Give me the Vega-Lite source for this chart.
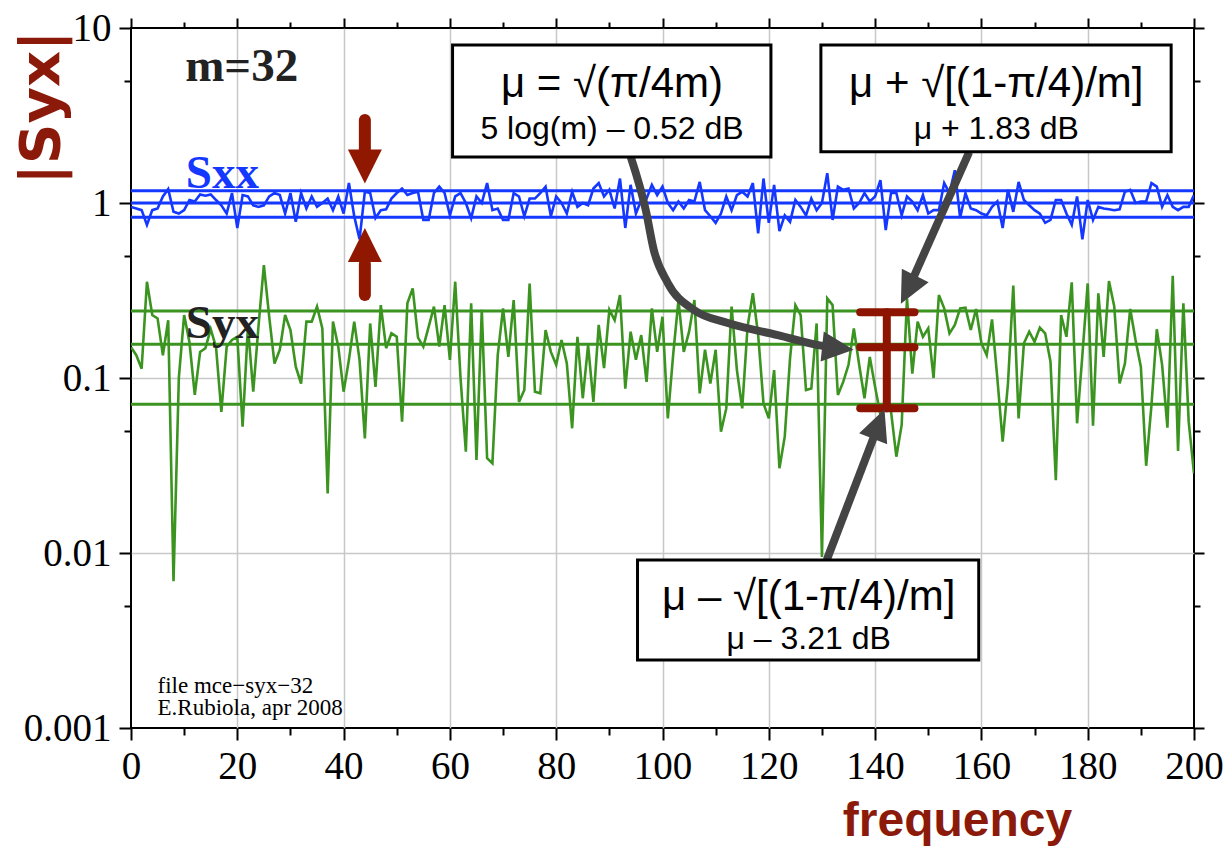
{
"$schema":"https://vega.github.io/schema/vega-lite/v6.json",
"width":1063,"height":700,"autosize":"none",
"padding":{"left":131,"top":28,"right":36,"bottom":122},
"background":"white",
"config":{"view":{"stroke":"black","strokeWidth":2}},
"datasets":{
"series":[
{"f":0,"v":0.95,"s":"Sxx"},{"f":1,"v":0.93,"s":"Sxx"},{"f":2,"v":0.91,"s":"Sxx"},{"f":3,"v":0.75,"s":"Sxx"},{"f":4,"v":0.91,"s":"Sxx"},{"f":5,"v":0.93,"s":"Sxx"},{"f":6,"v":1.09,"s":"Sxx"},{"f":7,"v":1.2,"s":"Sxx"},{"f":8,"v":0.89,"s":"Sxx"},{"f":9,"v":0.87,"s":"Sxx"},
{"f":10,"v":0.91,"s":"Sxx"},{"f":11,"v":1.04,"s":"Sxx"},{"f":12,"v":1.02,"s":"Sxx"},{"f":13,"v":1.12,"s":"Sxx"},{"f":14,"v":1.1,"s":"Sxx"},{"f":15,"v":1.12,"s":"Sxx"},{"f":16,"v":1.04,"s":"Sxx"},{"f":17,"v":0.97,"s":"Sxx"},{"f":18,"v":0.87,"s":"Sxx"},{"f":19,"v":1.14,"s":"Sxx"},
{"f":20,"v":0.72,"s":"Sxx"},{"f":21,"v":1.11,"s":"Sxx"},{"f":22,"v":1.09,"s":"Sxx"},{"f":23,"v":0.97,"s":"Sxx"},{"f":24,"v":0.95,"s":"Sxx"},{"f":25,"v":0.97,"s":"Sxx"},{"f":26,"v":1.09,"s":"Sxx"},{"f":27,"v":1.14,"s":"Sxx"},{"f":28,"v":1.11,"s":"Sxx"},{"f":29,"v":0.87,"s":"Sxx"},
{"f":30,"v":1.14,"s":"Sxx"},{"f":31,"v":0.78,"s":"Sxx"},{"f":32,"v":1.14,"s":"Sxx"},{"f":33,"v":0.93,"s":"Sxx"},{"f":34,"v":1.09,"s":"Sxx"},{"f":35,"v":0.95,"s":"Sxx"},{"f":36,"v":1.0,"s":"Sxx"},{"f":37,"v":1.06,"s":"Sxx"},{"f":38,"v":0.91,"s":"Sxx"},{"f":39,"v":1.09,"s":"Sxx"},
{"f":40,"v":0.87,"s":"Sxx"},{"f":41,"v":1.3,"s":"Sxx"},{"f":42,"v":0.84,"s":"Sxx"},{"f":43,"v":0.62,"s":"Sxx"},{"f":44,"v":1.16,"s":"Sxx"},{"f":45,"v":1.14,"s":"Sxx"},{"f":46,"v":0.82,"s":"Sxx"},{"f":47,"v":0.91,"s":"Sxx"},{"f":48,"v":0.92,"s":"Sxx"},{"f":49,"v":1.06,"s":"Sxx"},
{"f":50,"v":1.14,"s":"Sxx"},{"f":51,"v":1.21,"s":"Sxx"},{"f":52,"v":1.11,"s":"Sxx"},{"f":53,"v":1.14,"s":"Sxx"},{"f":54,"v":1.16,"s":"Sxx"},{"f":55,"v":0.8,"s":"Sxx"},{"f":56,"v":0.8,"s":"Sxx"},{"f":57,"v":1.14,"s":"Sxx"},{"f":58,"v":1.24,"s":"Sxx"},{"f":59,"v":1.14,"s":"Sxx"},
{"f":60,"v":0.85,"s":"Sxx"},{"f":61,"v":1.09,"s":"Sxx"},{"f":62,"v":1.14,"s":"Sxx"},{"f":63,"v":1.0,"s":"Sxx"},{"f":64,"v":0.82,"s":"Sxx"},{"f":65,"v":1.09,"s":"Sxx"},{"f":66,"v":1.0,"s":"Sxx"},{"f":67,"v":1.3,"s":"Sxx"},{"f":68,"v":0.91,"s":"Sxx"},{"f":69,"v":0.93,"s":"Sxx"},
{"f":70,"v":0.8,"s":"Sxx"},{"f":71,"v":0.8,"s":"Sxx"},{"f":72,"v":1.14,"s":"Sxx"},{"f":73,"v":1.09,"s":"Sxx"},{"f":74,"v":0.84,"s":"Sxx"},{"f":75,"v":1.06,"s":"Sxx"},{"f":76,"v":1.06,"s":"Sxx"},{"f":77,"v":1.14,"s":"Sxx"},{"f":78,"v":1.24,"s":"Sxx"},{"f":79,"v":0.84,"s":"Sxx"},
{"f":80,"v":1.09,"s":"Sxx"},{"f":81,"v":1.0,"s":"Sxx"},{"f":82,"v":0.87,"s":"Sxx"},{"f":83,"v":1.16,"s":"Sxx"},{"f":84,"v":0.95,"s":"Sxx"},{"f":85,"v":1.0,"s":"Sxx"},{"f":86,"v":0.97,"s":"Sxx"},{"f":87,"v":1.21,"s":"Sxx"},{"f":88,"v":1.3,"s":"Sxx"},{"f":89,"v":1.09,"s":"Sxx"},
{"f":90,"v":1.19,"s":"Sxx"},{"f":91,"v":0.93,"s":"Sxx"},{"f":92,"v":1.38,"s":"Sxx"},{"f":93,"v":0.72,"s":"Sxx"},{"f":94,"v":1.27,"s":"Sxx"},{"f":95,"v":0.87,"s":"Sxx"},{"f":96,"v":1.04,"s":"Sxx"},{"f":97,"v":1.06,"s":"Sxx"},{"f":98,"v":1.27,"s":"Sxx"},{"f":99,"v":1.11,"s":"Sxx"},
{"f":100,"v":1.24,"s":"Sxx"},{"f":101,"v":1.0,"s":"Sxx"},{"f":102,"v":0.91,"s":"Sxx"},{"f":103,"v":1.02,"s":"Sxx"},{"f":104,"v":0.93,"s":"Sxx"},{"f":105,"v":1.04,"s":"Sxx"},{"f":106,"v":1.02,"s":"Sxx"},{"f":107,"v":1.32,"s":"Sxx"},{"f":108,"v":0.91,"s":"Sxx"},{"f":109,"v":0.84,"s":"Sxx"},
{"f":110,"v":0.77,"s":"Sxx"},{"f":111,"v":0.87,"s":"Sxx"},{"f":112,"v":1.09,"s":"Sxx"},{"f":113,"v":0.91,"s":"Sxx"},{"f":114,"v":1.11,"s":"Sxx"},{"f":115,"v":1.16,"s":"Sxx"},{"f":116,"v":1.09,"s":"Sxx"},{"f":117,"v":1.3,"s":"Sxx"},{"f":118,"v":0.67,"s":"Sxx"},{"f":119,"v":1.38,"s":"Sxx"},
{"f":120,"v":0.77,"s":"Sxx"},{"f":121,"v":1.27,"s":"Sxx"},{"f":122,"v":0.69,"s":"Sxx"},{"f":123,"v":0.85,"s":"Sxx"},{"f":124,"v":0.78,"s":"Sxx"},{"f":125,"v":1.04,"s":"Sxx"},{"f":126,"v":0.95,"s":"Sxx"},{"f":127,"v":0.85,"s":"Sxx"},{"f":128,"v":1.06,"s":"Sxx"},{"f":129,"v":0.91,"s":"Sxx"},
{"f":130,"v":1.0,"s":"Sxx"},{"f":131,"v":1.48,"s":"Sxx"},{"f":132,"v":0.8,"s":"Sxx"},{"f":133,"v":1.24,"s":"Sxx"},{"f":134,"v":1.19,"s":"Sxx"},{"f":135,"v":1.21,"s":"Sxx"},{"f":136,"v":0.93,"s":"Sxx"},{"f":137,"v":1.0,"s":"Sxx"},{"f":138,"v":1.14,"s":"Sxx"},{"f":139,"v":1.02,"s":"Sxx"},
{"f":140,"v":1.09,"s":"Sxx"},{"f":141,"v":1.35,"s":"Sxx"},{"f":142,"v":0.7,"s":"Sxx"},{"f":143,"v":1.14,"s":"Sxx"},{"f":144,"v":1.14,"s":"Sxx"},{"f":145,"v":0.85,"s":"Sxx"},{"f":146,"v":1.09,"s":"Sxx"},{"f":147,"v":1.02,"s":"Sxx"},{"f":148,"v":0.91,"s":"Sxx"},{"f":149,"v":1.11,"s":"Sxx"},
{"f":150,"v":0.87,"s":"Sxx"},{"f":151,"v":0.91,"s":"Sxx"},{"f":152,"v":0.91,"s":"Sxx"},{"f":153,"v":1.3,"s":"Sxx"},{"f":154,"v":1.14,"s":"Sxx"},{"f":155,"v":1.54,"s":"Sxx"},{"f":156,"v":0.82,"s":"Sxx"},{"f":157,"v":1.14,"s":"Sxx"},{"f":158,"v":0.93,"s":"Sxx"},{"f":159,"v":0.91,"s":"Sxx"},
{"f":160,"v":0.87,"s":"Sxx"},{"f":161,"v":0.85,"s":"Sxx"},{"f":162,"v":0.95,"s":"Sxx"},{"f":163,"v":1.02,"s":"Sxx"},{"f":164,"v":0.72,"s":"Sxx"},{"f":165,"v":1.19,"s":"Sxx"},{"f":166,"v":0.89,"s":"Sxx"},{"f":167,"v":1.32,"s":"Sxx"},{"f":168,"v":1.04,"s":"Sxx"},{"f":169,"v":0.97,"s":"Sxx"},
{"f":170,"v":0.91,"s":"Sxx"},{"f":171,"v":0.87,"s":"Sxx"},{"f":172,"v":0.77,"s":"Sxx"},{"f":173,"v":0.8,"s":"Sxx"},{"f":174,"v":1.04,"s":"Sxx"},{"f":175,"v":1.04,"s":"Sxx"},{"f":176,"v":0.87,"s":"Sxx"},{"f":177,"v":0.75,"s":"Sxx"},{"f":178,"v":1.09,"s":"Sxx"},{"f":179,"v":0.62,"s":"Sxx"},
{"f":180,"v":1.04,"s":"Sxx"},{"f":181,"v":0.8,"s":"Sxx"},{"f":182,"v":0.95,"s":"Sxx"},{"f":183,"v":0.93,"s":"Sxx"},{"f":184,"v":0.92,"s":"Sxx"},{"f":185,"v":0.91,"s":"Sxx"},{"f":186,"v":0.92,"s":"Sxx"},{"f":187,"v":1.16,"s":"Sxx"},{"f":188,"v":1.19,"s":"Sxx"},{"f":189,"v":1.0,"s":"Sxx"},
{"f":190,"v":1.02,"s":"Sxx"},{"f":191,"v":1.02,"s":"Sxx"},{"f":192,"v":1.3,"s":"Sxx"},{"f":193,"v":1.24,"s":"Sxx"},{"f":194,"v":0.95,"s":"Sxx"},{"f":195,"v":1.11,"s":"Sxx"},{"f":196,"v":0.95,"s":"Sxx"},{"f":197,"v":0.91,"s":"Sxx"},{"f":198,"v":0.95,"s":"Sxx"},{"f":199,"v":0.95,"s":"Sxx"},{"f":200,"v":1.11,"s":"Sxx"},
{"f":0,"v":0.15,"s":"Syx"},{"f":1,"v":0.135,"s":"Syx"},{"f":2,"v":0.113,"s":"Syx"},{"f":3,"v":0.355,"s":"Syx"},{"f":4,"v":0.229,"s":"Syx"},{"f":5,"v":0.219,"s":"Syx"},{"f":6,"v":0.135,"s":"Syx"},{"f":7,"v":0.214,"s":"Syx"},{"f":8,"v":0.0069,"s":"Syx"},{"f":9,"v":0.1,"s":"Syx"},
{"f":10,"v":0.229,"s":"Syx"},{"f":11,"v":0.16,"s":"Syx"},{"f":12,"v":0.08,"s":"Syx"},{"f":13,"v":0.141,"s":"Syx"},{"f":14,"v":0.148,"s":"Syx"},{"f":15,"v":0.19,"s":"Syx"},{"f":16,"v":0.15,"s":"Syx"},{"f":17,"v":0.064,"s":"Syx"},{"f":18,"v":0.151,"s":"Syx"},{"f":19,"v":0.165,"s":"Syx"},
{"f":20,"v":0.172,"s":"Syx"},{"f":21,"v":0.0527,"s":"Syx"},{"f":22,"v":0.196,"s":"Syx"},{"f":23,"v":0.0835,"s":"Syx"},{"f":24,"v":0.2,"s":"Syx"},{"f":25,"v":0.442,"s":"Syx"},{"f":26,"v":0.224,"s":"Syx"},{"f":27,"v":0.121,"s":"Syx"},{"f":28,"v":0.145,"s":"Syx"},{"f":29,"v":0.229,"s":"Syx"},
{"f":30,"v":0.188,"s":"Syx"},{"f":31,"v":0.116,"s":"Syx"},{"f":32,"v":0.093,"s":"Syx"},{"f":33,"v":0.21,"s":"Syx"},{"f":34,"v":0.21,"s":"Syx"},{"f":35,"v":0.256,"s":"Syx"},{"f":36,"v":0.192,"s":"Syx"},{"f":37,"v":0.0219,"s":"Syx"},{"f":38,"v":0.21,"s":"Syx"},{"f":39,"v":0.151,"s":"Syx"},
{"f":40,"v":0.0835,"s":"Syx"},{"f":41,"v":0.127,"s":"Syx"},{"f":42,"v":0.21,"s":"Syx"},{"f":43,"v":0.127,"s":"Syx"},{"f":44,"v":0.0452,"s":"Syx"},{"f":45,"v":0.205,"s":"Syx"},{"f":46,"v":0.089,"s":"Syx"},{"f":47,"v":0.261,"s":"Syx"},{"f":48,"v":0.148,"s":"Syx"},{"f":49,"v":0.18,"s":"Syx"},
{"f":50,"v":0.172,"s":"Syx"},{"f":51,"v":0.0563,"s":"Syx"},{"f":52,"v":0.267,"s":"Syx"},{"f":53,"v":0.325,"s":"Syx"},{"f":54,"v":0.17,"s":"Syx"},{"f":55,"v":0.151,"s":"Syx"},{"f":56,"v":0.196,"s":"Syx"},{"f":57,"v":0.256,"s":"Syx"},{"f":58,"v":0.151,"s":"Syx"},{"f":59,"v":0.261,"s":"Syx"},
{"f":60,"v":0.127,"s":"Syx"},{"f":61,"v":0.355,"s":"Syx"},{"f":62,"v":0.1,"s":"Syx"},{"f":63,"v":0.0379,"s":"Syx"},{"f":64,"v":0.267,"s":"Syx"},{"f":65,"v":0.034,"s":"Syx"},{"f":66,"v":0.245,"s":"Syx"},{"f":67,"v":0.0348,"s":"Syx"},{"f":68,"v":0.0325,"s":"Syx"},{"f":69,"v":0.135,"s":"Syx"},
{"f":70,"v":0.25,"s":"Syx"},{"f":71,"v":0.132,"s":"Syx"},{"f":72,"v":0.279,"s":"Syx"},{"f":73,"v":0.073,"s":"Syx"},{"f":74,"v":0.0854,"s":"Syx"},{"f":75,"v":0.347,"s":"Syx"},{"f":76,"v":0.0835,"s":"Syx"},{"f":77,"v":0.0817,"s":"Syx"},{"f":78,"v":0.188,"s":"Syx"},{"f":79,"v":0.141,"s":"Syx"},
{"f":80,"v":0.119,"s":"Syx"},{"f":81,"v":0.165,"s":"Syx"},{"f":82,"v":0.121,"s":"Syx"},{"f":83,"v":0.0516,"s":"Syx"},{"f":84,"v":0.172,"s":"Syx"},{"f":85,"v":0.0766,"s":"Syx"},{"f":86,"v":0.154,"s":"Syx"},{"f":87,"v":0.073,"s":"Syx"},{"f":88,"v":0.201,"s":"Syx"},{"f":89,"v":0.114,"s":"Syx"},
{"f":90,"v":0.245,"s":"Syx"},{"f":91,"v":0.214,"s":"Syx"},{"f":92,"v":0.298,"s":"Syx"},{"f":93,"v":0.087,"s":"Syx"},{"f":94,"v":0.184,"s":"Syx"},{"f":95,"v":0.127,"s":"Syx"},{"f":96,"v":0.176,"s":"Syx"},{"f":97,"v":0.095,"s":"Syx"},{"f":98,"v":0.25,"s":"Syx"},{"f":99,"v":0.141,"s":"Syx"},
{"f":100,"v":0.224,"s":"Syx"},{"f":101,"v":0.0588,"s":"Syx"},{"f":102,"v":0.135,"s":"Syx"},{"f":103,"v":0.279,"s":"Syx"},{"f":104,"v":0.141,"s":"Syx"},{"f":105,"v":0.184,"s":"Syx"},{"f":106,"v":0.279,"s":"Syx"},{"f":107,"v":0.0817,"s":"Syx"},{"f":108,"v":0.145,"s":"Syx"},{"f":109,"v":0.093,"s":"Syx"},
{"f":110,"v":0.145,"s":"Syx"},{"f":111,"v":0.0493,"s":"Syx"},{"f":112,"v":0.067,"s":"Syx"},{"f":113,"v":0.256,"s":"Syx"},{"f":114,"v":0.111,"s":"Syx"},{"f":115,"v":0.067,"s":"Syx"},{"f":116,"v":0.196,"s":"Syx"},{"f":117,"v":0.305,"s":"Syx"},{"f":118,"v":0.176,"s":"Syx"},{"f":119,"v":0.0716,"s":"Syx"},
{"f":120,"v":0.0588,"s":"Syx"},{"f":121,"v":0.111,"s":"Syx"},{"f":122,"v":0.0305,"s":"Syx"},{"f":123,"v":0.0462,"s":"Syx"},{"f":124,"v":0.13,"s":"Syx"},{"f":125,"v":0.261,"s":"Syx"},{"f":126,"v":0.229,"s":"Syx"},{"f":127,"v":0.0854,"s":"Syx"},{"f":128,"v":0.087,"s":"Syx"},{"f":129,"v":0.205,"s":"Syx"},
{"f":130,"v":0.0095,"s":"Syx"},{"f":131,"v":0.285,"s":"Syx"},{"f":132,"v":0.261,"s":"Syx"},{"f":133,"v":0.08,"s":"Syx"},{"f":134,"v":0.095,"s":"Syx"},{"f":135,"v":0.119,"s":"Syx"},{"f":136,"v":0.192,"s":"Syx"},{"f":137,"v":0.119,"s":"Syx"},{"f":138,"v":0.0766,"s":"Syx"},{"f":139,"v":0.132,"s":"Syx"},
{"f":140,"v":0.089,"s":"Syx"},{"f":141,"v":0.0615,"s":"Syx"},{"f":142,"v":0.0766,"s":"Syx"},{"f":143,"v":0.0642,"s":"Syx"},{"f":144,"v":0.0355,"s":"Syx"},{"f":145,"v":0.0539,"s":"Syx"},{"f":146,"v":0.285,"s":"Syx"},{"f":147,"v":0.106,"s":"Syx"},{"f":148,"v":0.21,"s":"Syx"},{"f":149,"v":0.172,"s":"Syx"},
{"f":150,"v":0.192,"s":"Syx"},{"f":151,"v":0.1,"s":"Syx"},{"f":152,"v":0.298,"s":"Syx"},{"f":153,"v":0.25,"s":"Syx"},{"f":154,"v":0.18,"s":"Syx"},{"f":155,"v":0.201,"s":"Syx"},{"f":156,"v":0.25,"s":"Syx"},{"f":157,"v":0.252,"s":"Syx"},{"f":158,"v":0.188,"s":"Syx"},{"f":159,"v":0.248,"s":"Syx"},
{"f":160,"v":0.158,"s":"Syx"},{"f":161,"v":0.135,"s":"Syx"},{"f":162,"v":0.216,"s":"Syx"},{"f":163,"v":0.0996,"s":"Syx"},{"f":164,"v":0.0433,"s":"Syx"},{"f":165,"v":0.093,"s":"Syx"},{"f":166,"v":0.337,"s":"Syx"},{"f":167,"v":0.0588,"s":"Syx"},{"f":168,"v":0.158,"s":"Syx"},{"f":169,"v":0.184,"s":"Syx"},
{"f":170,"v":0.161,"s":"Syx"},{"f":171,"v":0.194,"s":"Syx"},{"f":172,"v":0.18,"s":"Syx"},{"f":173,"v":0.124,"s":"Syx"},{"f":174,"v":0.0261,"s":"Syx"},{"f":175,"v":0.229,"s":"Syx"},{"f":176,"v":0.172,"s":"Syx"},{"f":177,"v":0.352,"s":"Syx"},{"f":178,"v":0.0551,"s":"Syx"},{"f":179,"v":0.135,"s":"Syx"},
{"f":180,"v":0.347,"s":"Syx"},{"f":181,"v":0.0534,"s":"Syx"},{"f":182,"v":0.305,"s":"Syx"},{"f":183,"v":0.132,"s":"Syx"},{"f":184,"v":0.358,"s":"Syx"},{"f":185,"v":0.256,"s":"Syx"},{"f":186,"v":0.093,"s":"Syx"},{"f":187,"v":0.121,"s":"Syx"},{"f":188,"v":0.248,"s":"Syx"},{"f":189,"v":0.165,"s":"Syx"},
{"f":190,"v":0.116,"s":"Syx"},{"f":191,"v":0.0315,"s":"Syx"},{"f":192,"v":0.0701,"s":"Syx"},{"f":193,"v":0.19,"s":"Syx"},{"f":194,"v":0.119,"s":"Syx"},{"f":195,"v":0.052,"s":"Syx"},{"f":196,"v":0.384,"s":"Syx"},{"f":197,"v":0.0383,"s":"Syx"},{"f":198,"v":0.267,"s":"Syx"},{"f":199,"v":0.0563,"s":"Syx"},{"f":200,"v":0.0285,"s":"Syx"}
],
"hlines":[{"v":1.176,"s":"Sxx"},{"v":1.0,"s":"Sxx"},{"v":0.829,"s":"Sxx"},{"v":0.2415,"s":"Syx"},{"v":0.1558,"s":"Syx"},{"v":0.0707,"s":"Syx"}],
"errcaps":[{"x1":137.2,"x2":147.4,"v":0.2373},{"x1":137.2,"x2":147.4,"v":0.1498},{"x1":137.2,"x2":147.4,"v":0.0671}],
"errvert":[{"x":142.2,"v1":0.2373,"v2":0.0671}],
"redshafts":[{"x":44,"v1":2.98,"v2":1.95},{"x":44,"v1":0.45,"v2":0.298}],
"redheads":[{"x":44,"v":1.616,"a":0},{"x":44,"v":0.575,"a":180}],
"curve":[{"x":94.03,"v":1.832},{"x":96.85,"v":0.912},{"x":98.36,"v":0.539},{"x":101.0,"v":0.349},{"x":105.9,"v":0.245},{"x":112.3,"v":0.206},{"x":121.7,"v":0.176},{"x":130.4,"v":0.152},{"x":133.0,"v":0.148}],
"straight":[{"x1":157.7,"v1":1.956,"x2":146.2,"v2":0.32},{"x1":130.9,"v1":0.00912,"x2":140.7,"v2":0.0546}],
"grayheads":[{"x":133.0,"v":0.148,"a":96},{"x":146.2,"v":0.32,"a":207},{"x":140.7,"v":0.0546,"a":21}],
"boxes":[{"x1":60.5,"x2":120.4,"v1":8.0,"v2":1.83},{"x1":129.8,"x2":195.7,"v1":8.0,"v2":1.96},{"x1":95.3,"x2":159.5,"v1":0.00912,"v2":0.00245}],
"boxtext":[
{"x":90.5,"v":4.02,"t":"μ = √(π/4m)","line":1},
{"x":90.5,"v":2.33,"t":"5 log(m) – 0.52 dB","line":2},
{"x":162.8,"v":4.02,"t":"μ + √[(1-π/4)/m]","line":1},
{"x":162.8,"v":2.33,"t":"μ + 1.83 dB","line":2},
{"x":127.5,"v":0.00475,"t":"μ – √[(1-π/4)/m]","line":1},
{"x":127.5,"v":0.00284,"t":"μ – 3.21 dB","line":2}
],
"labels":[
{"x":10.2,"v":4.98,"t":"m=32"},
{"x":10.3,"v":1.213,"t":"Sxx"},
{"x":10.3,"v":0.1686,"t":"Syx"}
],
"filetext":[{"x":5.0,"v":0.00159,"t":"file mce−syx−32"},{"x":5.0,"v":0.00118,"t":"E.Rubiola, apr 2008"}]
},
"resolve":{"axis":{"x":"independent","y":"independent"}},
"layer":[
{"data":{"name":"series"},
 "mark":{"type":"line","strokeWidth":2.6,"clip":true},
 "encoding":{
  "x":{"field":"f","type":"quantitative","scale":{"domain":[0,200],"nice":false,"zero":false},
   "axis":{"orient":"bottom","values":[0,10,20,30,40,50,60,70,80,90,100,110,120,130,140,150,160,170,180,190,200],
    "labelExpr":"datum.value % 20 === 0 ? datum.label : ''",
    "tickSize":{"condition":{"test":"datum.value % 20 === 0","value":12},"value":7},
    "grid":true,"gridColor":"#c8c8c8","gridWidth":1.5,
    "gridOpacity":{"condition":{"test":"datum.value % 20 === 0 && datum.value > 0 && datum.value < 200","value":1},"value":0},
    "domain":false,"tickColor":"black","tickWidth":2,
    "labelFont":"Liberation Serif","labelFontSize":39,"labelColor":"black","labelPadding":7,"labelFlush":false,"labelOverlap":false,
    "title":"frequency","titleFont":"Liberation Sans","titleFontSize":48,"titleFontWeight":"bold","titleColor":"#8c1a0a",
    "titleX":826,"titleY":107,"titleAlign":"center","titleBaseline":"alphabetic"}},
  "y":{"field":"v","type":"quantitative","scale":{"type":"log","domain":[0.001,10],"nice":false},
   "axis":{"orient":"left","values":[0.001,0.005,0.01,0.05,0.1,0.5,1,5,10],"format":"~g",
    "labelExpr":"(datum.value==0.001||datum.value==0.01||datum.value==0.1||datum.value==1||datum.value==10) ? datum.label : ''",
    "tickSize":{"condition":{"test":"datum.value==0.001||datum.value==0.01||datum.value==0.1||datum.value==1||datum.value==10","value":12},"value":7},
    "grid":true,"gridColor":"#c8c8c8","gridWidth":1.5,
    "gridOpacity":{"condition":{"test":"datum.value==0.01||datum.value==0.1||datum.value==1","value":1},"value":0},
    "domain":false,"tickColor":"black","tickWidth":2,
    "labelFont":"Liberation Serif","labelFontSize":39,"labelColor":"black","labelPadding":8,"labelFlush":false,"labelOverlap":false,
    "title":"|Syx|","titleFont":"DejaVu Sans","titleFontSize":56,"titleFontWeight":"bold","titleColor":"#8c1a0a",
    "titleAngle":270,"titleX":-90,"titleY":2,"titleAlign":"right","titleBaseline":"middle"}},
  "color":{"field":"s","type":"nominal","scale":{"domain":["Sxx","Syx"],"range":["#1438ff","#3b9420"]},"legend":null}
 }},
{"data":{"name":"hlines"},
 "mark":{"type":"rule","strokeWidth":3},
 "encoding":{
  "y":{"field":"v","type":"quantitative","scale":{"type":"log","domain":[0.001,10],"nice":false},"axis":null},
  "color":{"field":"s","type":"nominal","scale":{"domain":["Sxx","Syx"],"range":["#1438ff","#3b9420"]},"legend":null}
 }},
{"data":{"name":"errcaps"},
 "mark":{"type":"rule","strokeWidth":8,"strokeCap":"round","color":"#8c1400"},
 "encoding":{
  "x":{"field":"x1","type":"quantitative","scale":{"domain":[0,200],"nice":false,"zero":false},"axis":null},
  "x2":{"field":"x2"},
  "y":{"field":"v","type":"quantitative","scale":{"type":"log","domain":[0.001,10],"nice":false},"axis":null}
 }},
{"data":{"name":"errvert"},
 "mark":{"type":"rule","strokeWidth":8,"strokeCap":"round","color":"#8c1400"},
 "encoding":{
  "x":{"field":"x","type":"quantitative","scale":{"domain":[0,200],"nice":false,"zero":false},"axis":null},
  "y":{"field":"v1","type":"quantitative","scale":{"type":"log","domain":[0.001,10],"nice":false},"axis":null},
  "y2":{"field":"v2"}
 }},
{"data":{"name":"redshafts"},
 "mark":{"type":"rule","strokeWidth":12,"strokeCap":"round","color":"#901800"},
 "encoding":{
  "x":{"field":"x","type":"quantitative","scale":{"domain":[0,200],"nice":false,"zero":false},"axis":null},
  "y":{"field":"v1","type":"quantitative","scale":{"type":"log","domain":[0.001,10],"nice":false},"axis":null},
  "y2":{"field":"v2"}
 }},
{"data":{"name":"redheads"},
 "mark":{"type":"point","shape":"M-1,-1L1,-1L0,1Z","filled":true,"opacity":1,"size":1156,"color":"#901800"},
 "encoding":{
  "x":{"field":"x","type":"quantitative","scale":{"domain":[0,200],"nice":false,"zero":false},"axis":null},
  "y":{"field":"v","type":"quantitative","scale":{"type":"log","domain":[0.001,10],"nice":false},"axis":null},
  "angle":{"field":"a","type":"quantitative","scale":null}
 }},
{"data":{"name":"curve"},
 "mark":{"type":"line","strokeWidth":8,"color":"#444444","interpolate":"monotone"},
 "encoding":{
  "x":{"field":"x","type":"quantitative","scale":{"domain":[0,200],"nice":false,"zero":false},"axis":null},
  "y":{"field":"v","type":"quantitative","scale":{"type":"log","domain":[0.001,10],"nice":false},"axis":null}
 }},
{"data":{"name":"straight"},
 "mark":{"type":"rule","strokeWidth":8,"color":"#444444"},
 "encoding":{
  "x":{"field":"x1","type":"quantitative","scale":{"domain":[0,200],"nice":false,"zero":false},"axis":null},
  "x2":{"field":"x2"},
  "y":{"field":"v1","type":"quantitative","scale":{"type":"log","domain":[0.001,10],"nice":false},"axis":null},
  "y2":{"field":"v2"}
 }},
{"data":{"name":"grayheads"},
 "mark":{"type":"point","shape":"M0,-1L-0.95,1L0.95,1Z","filled":true,"opacity":1,"size":1000,"color":"#444444"},
 "encoding":{
  "x":{"field":"x","type":"quantitative","scale":{"domain":[0,200],"nice":false,"zero":false},"axis":null},
  "y":{"field":"v","type":"quantitative","scale":{"type":"log","domain":[0.001,10],"nice":false},"axis":null},
  "angle":{"field":"a","type":"quantitative","scale":null}
 }},
{"data":{"name":"boxes"},
 "mark":{"type":"rect","fill":"white","stroke":"black","strokeWidth":3},
 "encoding":{
  "x":{"field":"x1","type":"quantitative","scale":{"domain":[0,200],"nice":false,"zero":false},
   "axis":{"orient":"top","values":[0,10,20,30,40,50,60,70,80,90,100,110,120,130,140,150,160,170,180,190,200],"labels":false,"grid":false,"domain":false,"title":null,
    "tickSize":{"condition":{"test":"datum.value % 20 === 0","value":10},"value":6},"tickColor":"black","tickWidth":2}},
  "x2":{"field":"x2"},
  "y":{"field":"v1","type":"quantitative","scale":{"type":"log","domain":[0.001,10],"nice":false},
   "axis":{"orient":"right","values":[0.001,0.005,0.01,0.05,0.1,0.5,1,5,10],"labels":false,"grid":false,"domain":false,"title":null,
    "tickSize":{"condition":{"test":"datum.value==0.001||datum.value==0.01||datum.value==0.1||datum.value==1||datum.value==10","value":10},"value":6},"tickColor":"black","tickWidth":2}},
  "y2":{"field":"v2"}
 }},
{"data":{"name":"boxtext"},
 "transform":[{"filter":"datum.line == 1"}],
 "mark":{"type":"text","font":"Liberation Sans","fontSize":42,"align":"center","baseline":"alphabetic","color":"black"},
 "encoding":{
  "x":{"field":"x","type":"quantitative","scale":{"domain":[0,200],"nice":false,"zero":false},"axis":null},
  "y":{"field":"v","type":"quantitative","scale":{"type":"log","domain":[0.001,10],"nice":false},"axis":null},
  "text":{"field":"t"}
 }},
{"data":{"name":"boxtext"},
 "transform":[{"filter":"datum.line == 2"}],
 "mark":{"type":"text","font":"Liberation Sans","fontSize":32,"align":"center","baseline":"alphabetic","color":"black"},
 "encoding":{
  "x":{"field":"x","type":"quantitative","scale":{"domain":[0,200],"nice":false,"zero":false},"axis":null},
  "y":{"field":"v","type":"quantitative","scale":{"type":"log","domain":[0.001,10],"nice":false},"axis":null},
  "text":{"field":"t"}
 }},
{"data":{"name":"labels"},
 "transform":[{"filter":"datum.t != 'Sxx'"}],
 "mark":{"type":"text","font":"Liberation Serif","fontWeight":"bold","fontSize":47,"align":"left","baseline":"alphabetic","color":"#222222"},
 "encoding":{
  "x":{"field":"x","type":"quantitative","scale":{"domain":[0,200],"nice":false,"zero":false},"axis":null},
  "y":{"field":"v","type":"quantitative","scale":{"type":"log","domain":[0.001,10],"nice":false},"axis":null},
  "text":{"field":"t"}
 }},
{"data":{"name":"labels"},
 "transform":[{"filter":"datum.t == 'Sxx'"}],
 "mark":{"type":"text","font":"Liberation Serif","fontWeight":"bold","fontSize":47,"align":"left","baseline":"alphabetic","color":"#1438ff"},
 "encoding":{
  "x":{"field":"x","type":"quantitative","scale":{"domain":[0,200],"nice":false,"zero":false},"axis":null},
  "y":{"field":"v","type":"quantitative","scale":{"type":"log","domain":[0.001,10],"nice":false},"axis":null},
  "text":{"field":"t"}
 }},
{"data":{"name":"filetext"},
 "mark":{"type":"text","font":"Liberation Serif","fontSize":23,"align":"left","baseline":"alphabetic","color":"black"},
 "encoding":{
  "x":{"field":"x","type":"quantitative","scale":{"domain":[0,200],"nice":false,"zero":false},"axis":null},
  "y":{"field":"v","type":"quantitative","scale":{"type":"log","domain":[0.001,10],"nice":false},"axis":null},
  "text":{"field":"t"}
 }}
]
}
